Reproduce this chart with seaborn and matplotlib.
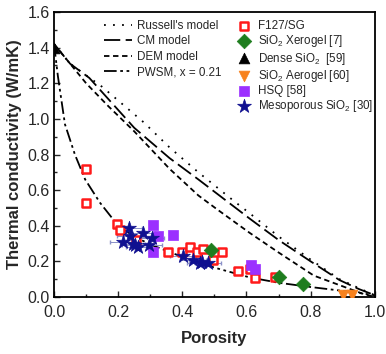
import numpy as np
import pandas as pd
import matplotlib
matplotlib.use("Agg")
import matplotlib.pyplot as plt
import seaborn as sns

# ---- model curves ----
russell_x = [0.0, 0.05, 0.15, 0.28, 0.36, 0.45, 0.56, 0.61, 0.70, 0.80, 0.89, 0.95, 1.0]
russell_y = [1.42, 1.31, 1.18, 0.98, 0.84, 0.70, 0.54, 0.47, 0.34, 0.21, 0.10, 0.05, 0.01]
cm_x = [0.0, 0.05, 0.11, 0.25, 0.36, 0.45, 0.53, 0.61, 0.70, 0.80, 0.89, 0.95, 1.0]
cm_y = [1.42, 1.31, 1.23, 0.95, 0.78, 0.66, 0.55, 0.44, 0.32, 0.20, 0.095, 0.045, 0.01]
dem_x = [0.0, 0.10, 0.17, 0.25, 0.36, 0.45, 0.51, 0.61, 0.70, 0.81, 0.90, 0.96, 1.0]
dem_y = [1.42, 1.20, 1.07, 0.93, 0.72, 0.57, 0.49, 0.36, 0.25, 0.12, 0.06, 0.02, 0.0]
pwsm_x = [0.0, 0.012, 0.034, 0.065, 0.097, 0.143, 0.20, 0.25, 0.30, 0.40, 0.50, 0.61, 0.70, 0.80, 0.93, 1.0]
pwsm_y = [1.42, 1.24, 0.97, 0.80, 0.66, 0.53, 0.40, 0.34, 0.295, 0.225, 0.165, 0.11, 0.08, 0.056, 0.028, 0.01]

# ---- experimental data ----
f127_x = [0.10, 0.10, 0.195, 0.205, 0.255, 0.355, 0.40, 0.425, 0.445, 0.465, 0.495, 0.525, 0.575, 0.61, 0.625, 0.69]
f127_y = [0.72, 0.53, 0.41, 0.375, 0.32, 0.25, 0.255, 0.28, 0.25, 0.27, 0.205, 0.25, 0.145, 0.16, 0.105, 0.115]
xero_x = [0.49, 0.70, 0.775]
xero_y = [0.265, 0.115, 0.075]
dense_x = [0.0]
dense_y = [1.40]
aero_x = [0.90, 0.93]
aero_y = [0.01, 0.01]
hsq_x = [0.31, 0.323, 0.37, 0.307, 0.615, 0.625]
hsq_y = [0.405, 0.34, 0.347, 0.25, 0.18, 0.16]
meso_x = [0.235, 0.276, 0.237, 0.216, 0.304, 0.252, 0.263, 0.296, 0.245, 0.403, 0.434, 0.455, 0.46, 0.48]
meso_y = [0.385, 0.358, 0.343, 0.311, 0.33, 0.292, 0.279, 0.292, 0.30, 0.23, 0.21, 0.19, 0.195, 0.19]

xticks = [0.0, 0.2, 0.4, 0.6, 0.8, 1.0]
yticks = [0.0, 0.2, 0.4, 0.6, 0.8, 1.0, 1.2, 1.4, 1.6]

sns.set_style("ticks")
plt.rcParams['font.family'] = ['Liberation Sans', 'DejaVu Sans']
plt.rcParams['mathtext.fontset'] = 'custom'
plt.rcParams['mathtext.rm'] = 'Liberation Sans'
plt.rcParams['mathtext.it'] = 'Liberation Sans:italic'
plt.rcParams['mathtext.bf'] = 'Liberation Sans:bold'

fig = plt.figure(figsize=(3.86, 3.54), dpi=100)
ax = fig.add_axes([0.140, 0.161, 0.831, 0.805])

lw = 1.3
curves = [
    (russell_x, russell_y, "Russell's model", (0, (1, 4))),
    (cm_x, cm_y, "CM model", (0, (9, 3))),
    (dem_x, dem_y, "DEM model", (0, (3, 2))),
    (pwsm_x, pwsm_y, "PWSM, x = 0.21", (0, (7, 2, 1.5, 2, 1.5, 2))),
]
line_handles = []
for cx, cy, lab, ls in curves:
    sns.lineplot(x=cx, y=cy, ax=ax, color='black', lw=lw, linestyle=ls,
                 estimator=None, sort=False, legend=False)
    line_handles.append(ax.lines[-1])
    ax.lines[-1].set_label(lab)

# error bars
ax.errorbar(f127_x, f127_y, xerr=0.008, yerr=0.015, fmt='none', ecolor='#f4a0a0',
            elinewidth=0.8, capsize=1.5, zorder=2)
ax.errorbar(meso_x, meso_y, xerr=0.04, fmt='none', ecolor='#8a90c8',
            elinewidth=0.7, capsize=1.5, zorder=2)

marker_handles = []
def scat(x, y, label, marker, size, fc, ec, lw_e=0.0):
    sns.scatterplot(x=x, y=y, ax=ax, marker=marker, s=size, facecolor=fc,
                    edgecolor=ec, linewidth=lw_e, zorder=3, legend=False)
    coll = ax.collections[-1]
    coll.set_label(label)
    marker_handles.append(coll)

scat(f127_x, f127_y, "F127/SG", 's', 34, 'white', '#ff1a1a', 1.8)
scat(xero_x, xero_y, "SiO$_2$ Xerogel [7]", 'D', 55, '#1e7d1e', '#1e7d1e', 0.5)
scat(dense_x, dense_y, "Dense SiO$_2$  [59]", '^', 60, 'black', 'black', 0.5)
scat(aero_x, aero_y, "SiO$_2$ Aerogel [60]", 'v', 60, '#f7821e', '#f7821e', 0.5)
scat(hsq_x, hsq_y, "HSQ [58]", 's', 50, '#9b30ff', '#9b30ff', 0.5)
scat(meso_x, meso_y, "Mesoporous SiO$_2$ [30]", '*', 110, '#101090', '#101090', 0.5)

ax.set_xlim(0, 1.0)
ax.set_ylim(0, 1.6)
ax.set_xticks(xticks)
ax.set_yticks(yticks)
ax.set_xticklabels([f"{t:.1f}" for t in xticks])
ax.set_yticklabels([f"{t:.1f}" for t in yticks])
ax.set_xticks(np.arange(0.1, 1.0, 0.2), minor=True)
ax.set_yticks(np.arange(0.1, 1.6, 0.2), minor=True)
ax.tick_params(which='major', direction='in', length=4, width=1, labelsize=11.5)
ax.tick_params(axis='x', which='major', pad=6)
ax.tick_params(axis='y', which='major', pad=3)
ax.tick_params(which='minor', direction='in', length=2, width=1)
for s in ax.spines.values():
    s.set_linewidth(1.3)
    s.set_color('black')
ax.set_xlabel("Porosity", fontsize=12, fontweight='bold', labelpad=8)
ax.set_ylabel("Thermal conductivity (W/mK)", fontsize=12, fontweight='bold', labelpad=4)

leg1 = ax.legend(handles=line_handles, loc='upper left', bbox_to_anchor=(0.13, 1.0),
                 frameon=False, fontsize=8.4, handlelength=2.4, handletextpad=0.4,
                 labelspacing=0.28, borderaxespad=0.3)
ax.add_artist(leg1)
ax.legend(handles=marker_handles, loc='upper left', bbox_to_anchor=(0.545, 1.0),
          frameon=False, fontsize=8.4, handlelength=1.2, handletextpad=0.6,
          labelspacing=0.1, borderaxespad=0.3, scatterpoints=1)

fig.savefig("out.png", dpi=100)
